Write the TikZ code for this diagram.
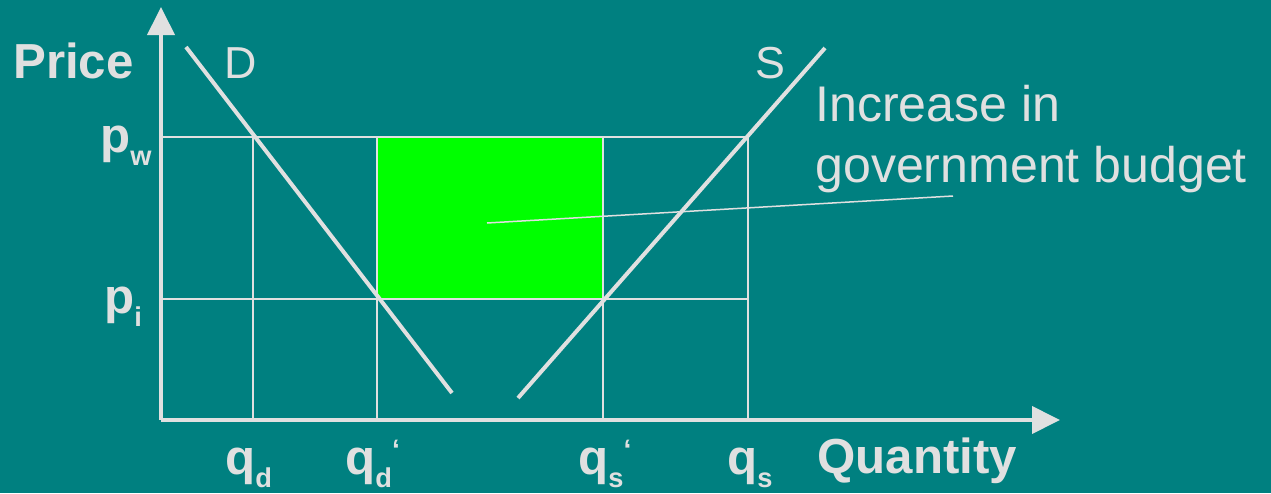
\documentclass[tikz,border=0pt]{standalone}
\usepackage{fontspec}
\setmainfont{Liberation Sans}
\usetikzlibrary{arrows.meta}
\definecolor{bgteal}{RGB}{0,128,128}
\definecolor{chalk}{RGB}{224,224,224}
\definecolor{budgetgreen}{RGB}{0,255,0}
\newcommand{\lab}[2]{#1\raisebox{-0.27em}{\fontsize{15.5}{15.5}\selectfont #2}}
\newcommand{\tck}{\raisebox{0.30em}{\fontsize{16}{16}\selectfont ‘}}

\begin{document}
\begin{tikzpicture}[line join=round, text=chalk,
		axis/.style={line width=0.8mm, chalk, -{Triangle[length=5.6mm, width=5.4mm]}},
		curve/.style={line width=0.8mm, chalk},
		grid/.style={line width=0.4mm, chalk},
		lab/.style={anchor=base west, inner sep=0pt, font=\bfseries\fontsize{28}{34}\selectfont}]
	\useasboundingbox (0,0) rectangle (25.42,9.86);
	\fill[bgteal] (0,0) rectangle (25.42,9.86);
	% budget area
	\fill[budgetgreen] (7.54,3.88) rectangle (12.06,7.12);
	\coordinate (gov) at (9.74,5.40);
	\coordinate (tip) at (19.06,5.94);
	\draw[line width=0.3mm, chalk] (gov) -- (tip);
	% price lines and quantity lines
	\draw[grid] (3.22,7.12) -- (14.96,7.12);
	\draw[grid] (3.22,3.88) -- (14.96,3.88);
	\foreach \x in {5.06,7.54,12.06,14.96}
		\draw[grid] (\x,7.12) -- (\x,1.46);
	% demand and supply
	\draw[curve] (3.72,8.92) -- (9.04,2.00);
	\draw[curve] (10.36,1.90) -- (16.50,8.90);
	% axes
	\coordinate (O) at (3.22,1.46);
	\draw[axis] (O) -- (3.22,9.72);
	\draw[axis] (O) -- (21.20,1.46);
	\node[lab] (price) at (0.26,8.30) {Price};
	\node[lab] (qty) at (16.34,0.40) {Quantity};
	\node[lab, font=\fontsize{25.5}{30}\selectfont] (dlab) at (4.48,8.30) {D};
	\node[lab, font=\fontsize{25.5}{30}\selectfont] (slab) at (15.10,8.30) {S};
	\node[lab, font=\fontsize{28.5}{34}\selectfont] (inc1) at (16.30,7.44) {Increase in};
	\node[lab, font=\fontsize{28.5}{34}\selectfont] (inc2) at (16.30,6.22) {government budget};
	\node[lab] (pw) at (2.00,6.82) {\lab{p}{w}};
	\node[lab] (pi) at (2.08,3.60) {\lab{p}{i}};
	\node[lab] (qd) at (4.50,0.38) {\lab{q}{d}};
	\node[lab] (qdp) at (6.90,0.38) {\lab{q}{d}\tck};
	\node[lab] (qsp) at (11.56,0.38) {\lab{q}{s}\tck};
	\node[lab] (qs) at (14.54,0.38) {\lab{q}{s}};
\end{tikzpicture}
\end{document}
